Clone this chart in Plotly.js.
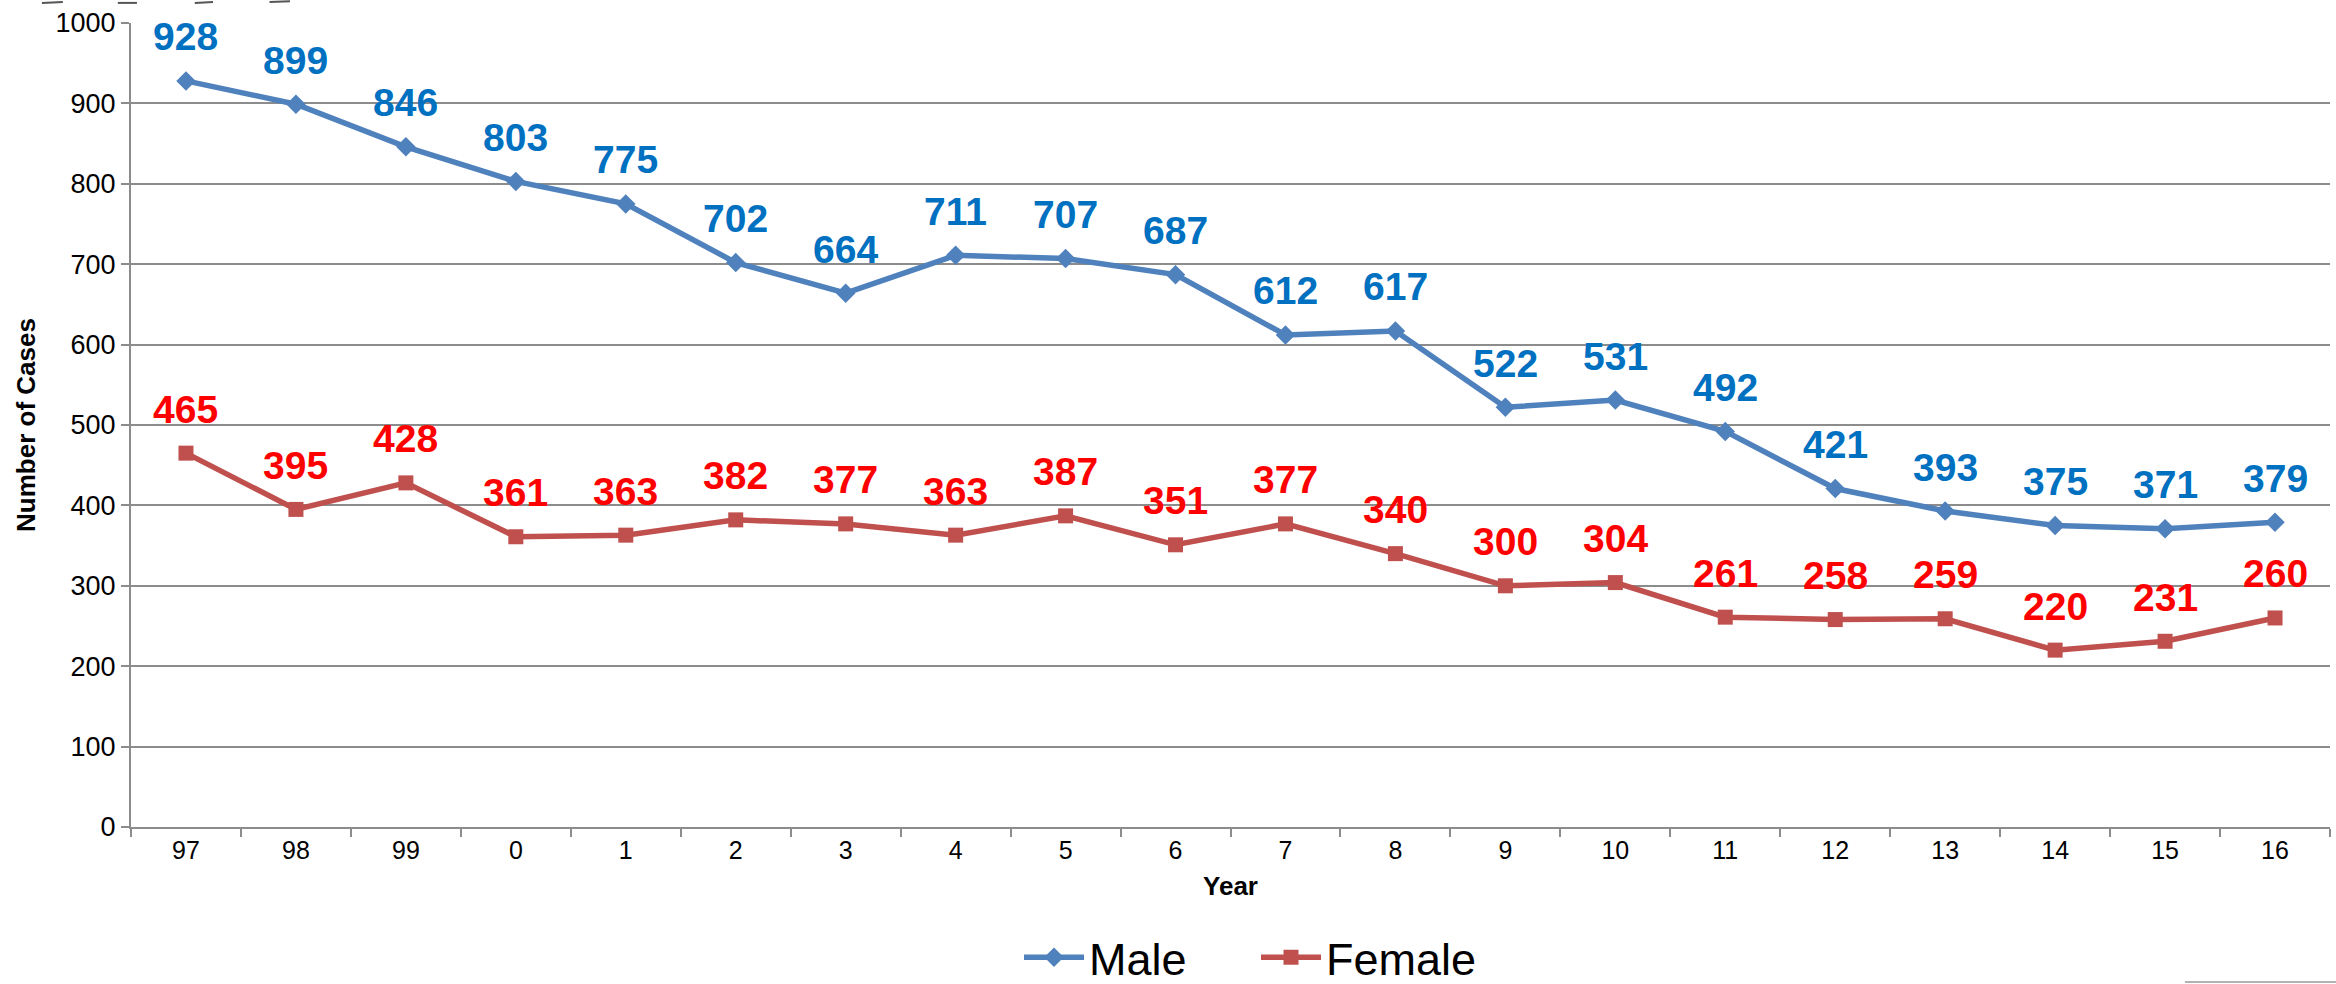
<!DOCTYPE html>
<html>
<head>
<meta charset="utf-8">
<script src="https://cdn.plot.ly/plotly-3.0.1.min.js"></script>
<style>
html,body{margin:0;padding:0;background:#fff;}
#chart{width:2336px;height:984px;}
</style>
</head>
<body>
<div id="chart"></div>
<script>
var years = ["97","98","99","0","1","2","3","4","5","6","7","8","9","10","11","12","13","14","15","16"];
var male = [928, 899, 846, 803, 775, 702, 664, 711, 707, 687, 612, 617, 522, 531, 492, 421, 393, 375, 371, 379];
var female = [465, 395, 428, 361, 363, 382, 377, 363, 387, 351, 377, 340, 300, 304, 261, 258, 259, 220, 231, 260];
var yTicks = [0, 100, 200, 300, 400, 500, 600, 700, 800, 900, 1000];

var FONT = "Liberation Sans, Arial, sans-serif";

var traces = [
  {
    x: years, y: male, name: "Male", type: "scatter", mode: "lines+markers",
    line: {color: "#4F81BD", width: 5.5},
    marker: {symbol: "diamond", size: 15, color: "#4F81BD"}
  },
  {
    x: years, y: female, name: "Female", type: "scatter", mode: "lines+markers",
    line: {color: "#C0504D", width: 5.5},
    marker: {symbol: "square", size: 15, color: "#C0504D"}
  }
];

var annotations = [];
function addLabels(vals, color) {
  for (var i = 0; i < years.length; i++) {
    annotations.push({
      x: i, y: vals[i], xref: "x", yref: "y",
      text: String(vals[i]), showarrow: false, yshift: 44,
      font: {family: FONT, size: 39, color: color, weight: "bold"}
    });
  }
}
addLabels(male, "#0070C0");
addLabels(female, "#FF0000");

var layout = {
  width: 2336, height: 984,
  margin: {l: 131, r: 6, t: 23, b: 157},
  paper_bgcolor: "#ffffff", plot_bgcolor: "#ffffff",
  showlegend: true,
  legend: {
    orientation: "h", xref: "paper", x: 0.5116, xanchor: "center",
    yref: "container", y: 0.027, yanchor: "middle",
    font: {family: FONT, size: 45, color: "#000"},
    itemwidth: 60, entrywidth: 162, entrywidthmode: "pixels", tracegroupgap: 0
  },
  xaxis: {
    type: "category", range: [-0.5, 19.5],
    tickson: "boundaries", ticks: "outside", ticklen: 8, tickcolor: "#8c8c8c", tickwidth: 2,
    showline: true, linecolor: "#8c8c8c", linewidth: 2,
    showgrid: false, zeroline: false,
    tickfont: {family: FONT, size: 25, color: "#000"},
    title: {text: "<b>Year</b>", standoff: 14, font: {family: FONT, size: 26, color: "#000"}},
    fixedrange: true
  },
  yaxis: {
    range: [0, 1000], tickvals: yTicks, ticktext: yTicks.map(String),
    ticks: "outside", ticklen: 8, tickcolor: "#8c8c8c", tickwidth: 2,
    showline: true, linecolor: "#8c8c8c", linewidth: 2,
    showgrid: true, gridcolor: "#8c8c8c", gridwidth: 2,
    zeroline: false,
    tickfont: {family: FONT, size: 27, color: "#000"},
    title: {text: "<b>Number of Cases</b>", standoff: 12, font: {family: FONT, size: 26, color: "#000"}},
    fixedrange: true
  },
  annotations: annotations,
  shapes: [
    {type: "line", xref: "paper", yref: "paper", x0: -0.0405, x1: -0.031, y0: 1.025, y1: 1.026, line: {color: "#555", width: 2}},
    {type: "line", xref: "paper", yref: "paper", x0: -0.006, x1: 0.0027, y0: 1.025, y1: 1.025, line: {color: "#555", width: 2}},
    {type: "line", xref: "paper", yref: "paper", x0: 0.029, x1: 0.0373, y0: 1.025, y1: 1.026, line: {color: "#555", width: 2}},
    {type: "line", xref: "paper", yref: "paper", x0: 0.063, x1: 0.0723, y0: 1.026, y1: 1.027, line: {color: "#555", width: 2}},
    {type: "line", xref: "paper", yref: "paper", x0: 0.934, x1: 1.003, y0: -0.1928, y1: -0.1928, line: {color: "#999", width: 1.5}}
  ]
};

Plotly.newPlot("chart", traces, layout, {displayModeBar: false, staticPlot: true});
</script>
</body>
</html>
